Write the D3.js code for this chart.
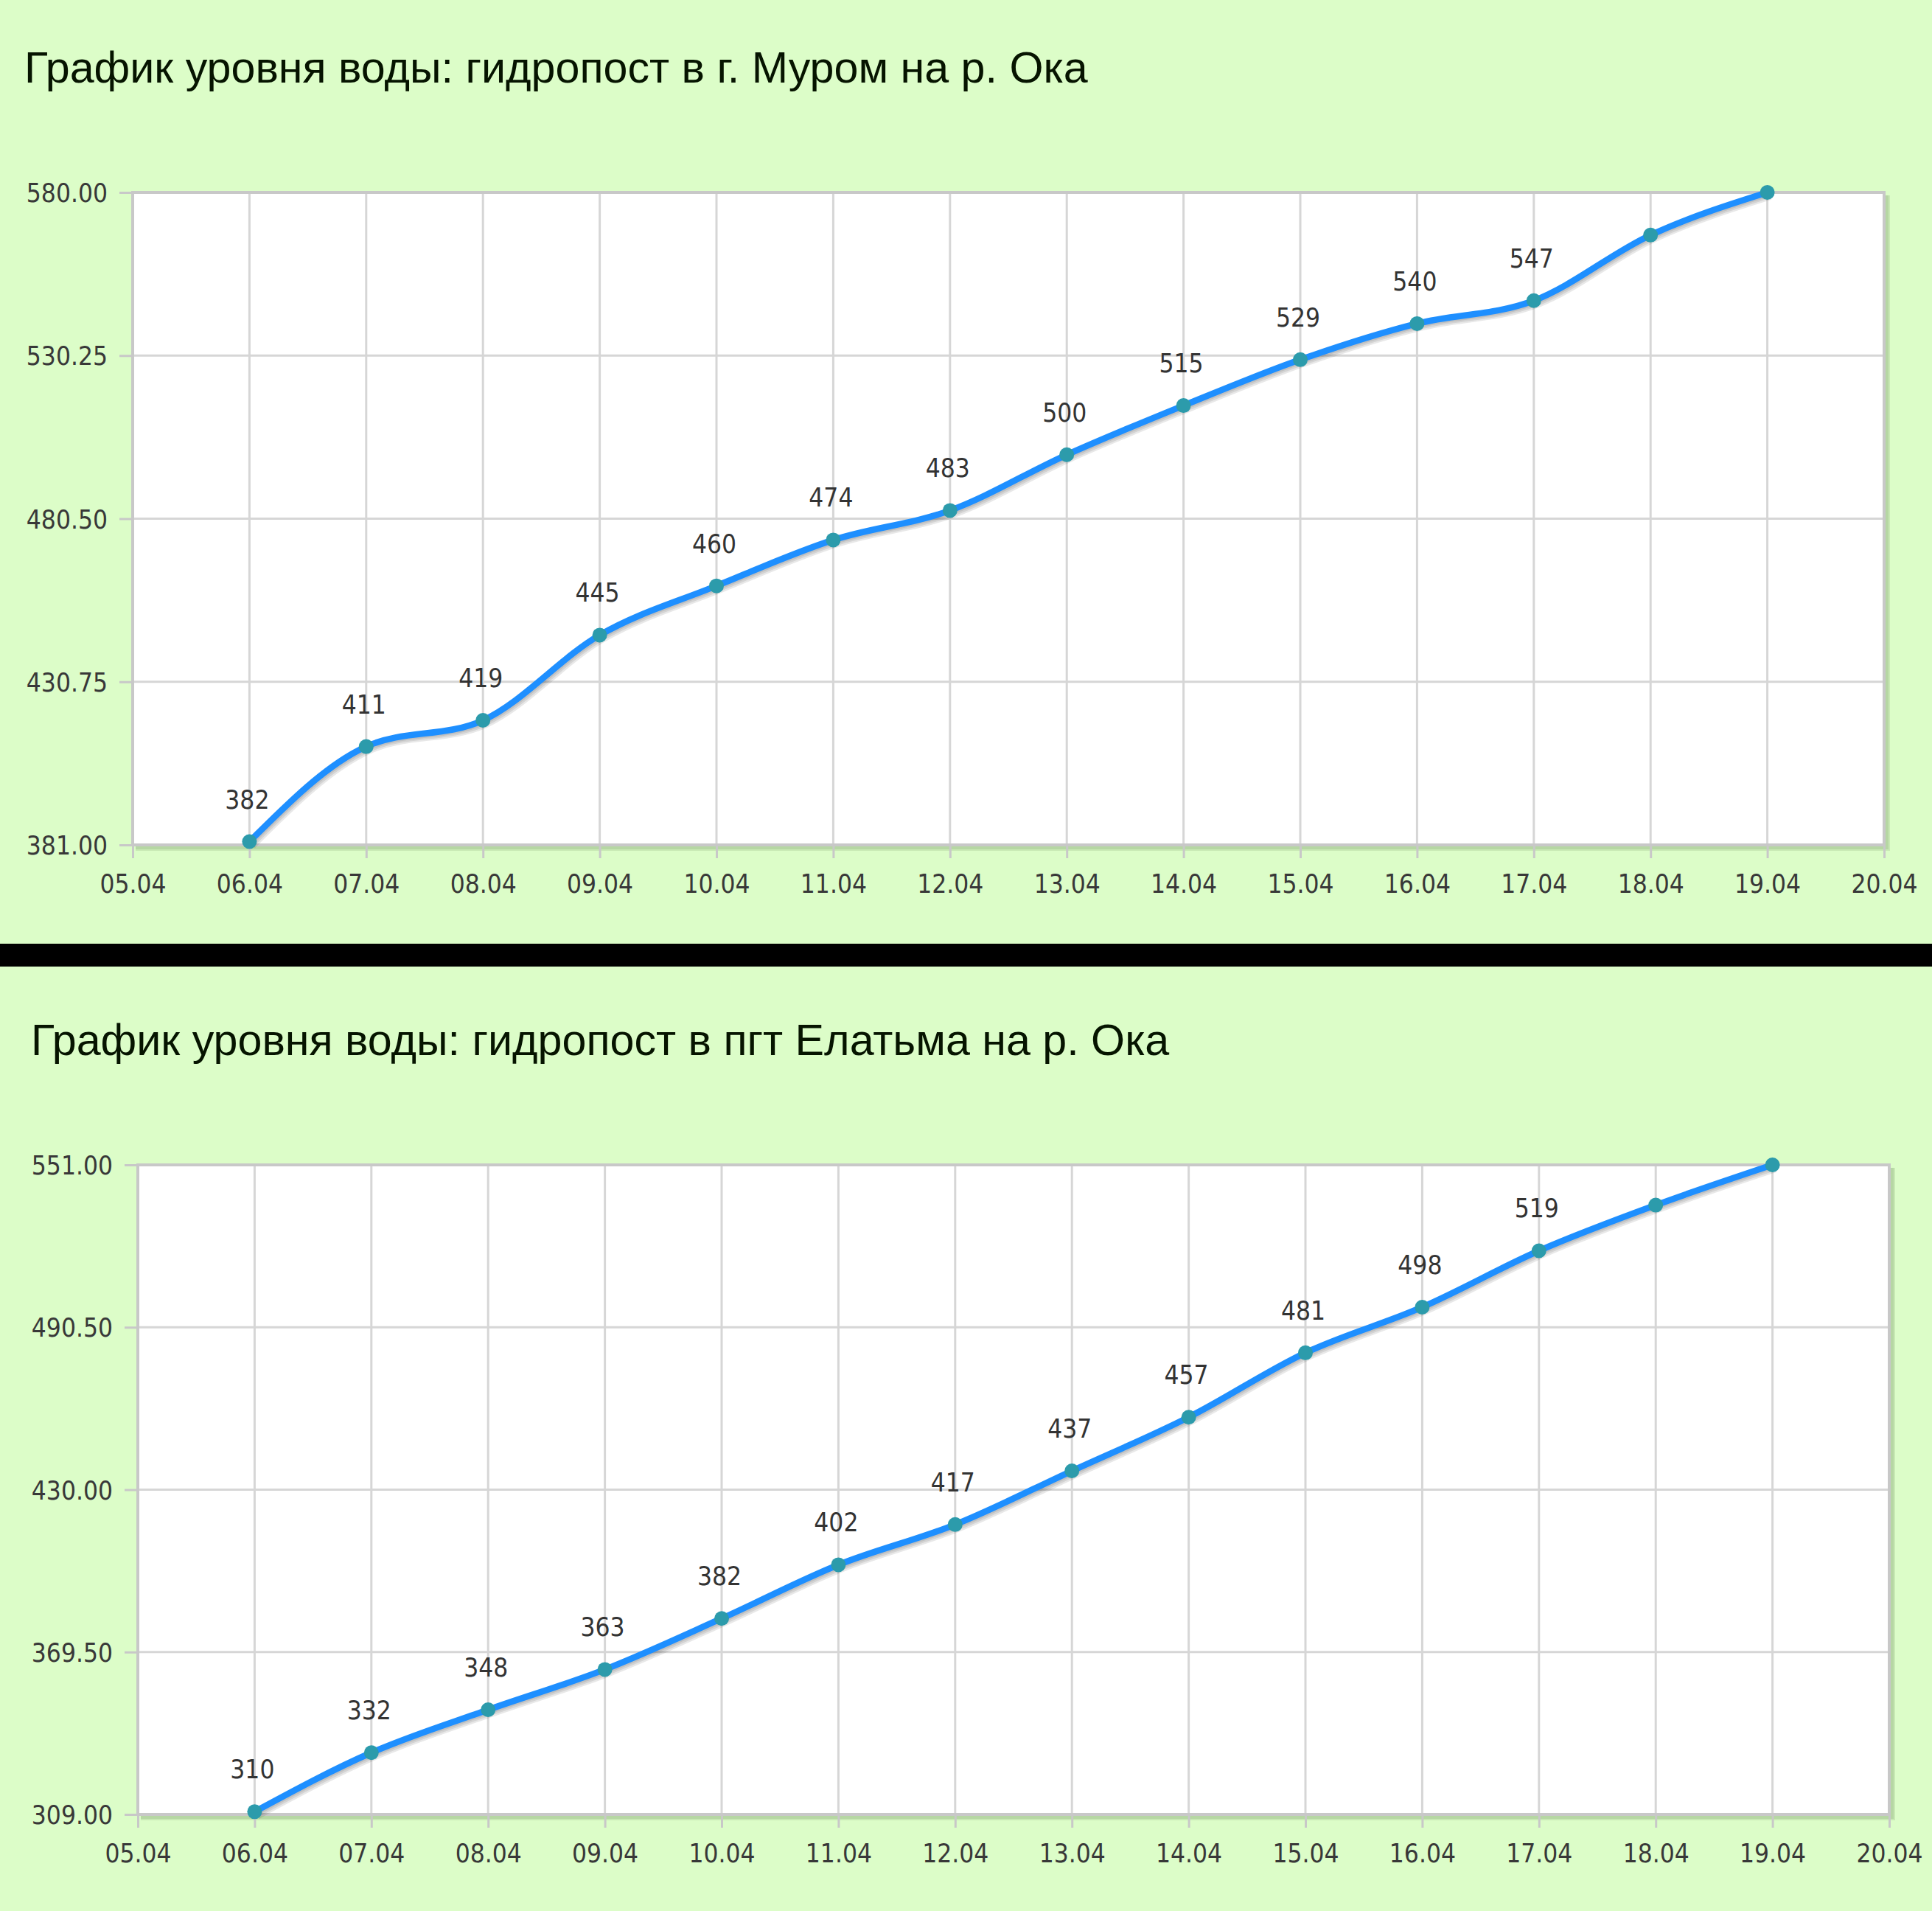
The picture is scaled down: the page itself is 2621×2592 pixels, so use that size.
<!DOCTYPE html>
<html>
<head>
<meta charset="utf-8">
<script src="https://cdn.jsdelivr.net/npm/d3@7"></script>
<style>
  body { margin: 0; background: #dcfdc8; }
  svg { display: block; }
</style>
</head>
<body>
<div id="chart"></div>
<script>
// x categories (axis ticks)
const xTicks = ["05.04", "06.04", "07.04", "08.04", "09.04", "10.04", "11.04", "12.04",
                "13.04", "14.04", "15.04", "16.04", "17.04", "18.04", "19.04", "20.04"];
const dates = ["06.04", "07.04", "08.04", "09.04", "10.04", "11.04", "12.04",
               "13.04", "14.04", "15.04", "16.04", "17.04", "18.04", "19.04"];

// гидропост в г. Муром
const title1 = "График уровня воды: гидропост в г. Муром на р. Ока";
const values1 = [382, 411, 419, 445, 460, 474, 483, 500, 515, 529, 540, 547, 567, 580];
const yTicks1 = [381, 430.75, 480.50, 530.25, 580];

// гидропост в пгт Елатьма
const title2 = "График уровня воды: гидропост в пгт Елатьма на р. Ока";
const values2 = [310, 332, 348, 363, 382, 402, 417, 437, 457, 481, 498, 519, 536, 551];
const yTicks2 = [309, 369.50, 430, 490.50, 551];

// how many points get a value label (the last two have none)
const labelCount = 12;

const W = 2621, H = 2592;

const svg = d3.select("#chart").append("svg")
    .attr("width", W)
    .attr("height", H);

// black separator
svg.append("rect")
    .attr("x", 0).attr("y", 1280)
    .attr("width", W).attr("height", 31)
    .attr("fill", "#000");

function drawChart(cfg)
{
    let g = svg.append("g");

    g.append("text")
        .attr("x", cfg.titleX)
        .attr("y", cfg.titleY)
        .attr("font-family", "Liberation Sans, Arial, sans-serif")
        .attr("font-size", 59.2)
        .attr("fill", "#061400")
        .text(cfg.title);

    let x = d3.scalePoint().domain(xTicks).range([cfg.left, cfg.right]);
    let y = d3.scaleLinear()
        .domain([cfg.yTicks[0], cfg.yTicks[cfg.yTicks.length - 1]])
        .range([cfg.bottom, cfg.top]);

    // grid shadow
    for (let i = 1; i <= 3; i++) {
        g.append("path")
            .attr("d", `M${cfg.right + 2 * i},${cfg.top + 4} V${cfg.bottom + 2 * i} H${cfg.left + 4}`)
            .attr("fill", "none")
            .attr("stroke", "rgba(60,90,40,0.12)")
            .attr("stroke-width", 4);
    }

    g.append("rect")
        .attr("x", cfg.left).attr("y", cfg.top)
        .attr("width", cfg.right - cfg.left)
        .attr("height", cfg.bottom - cfg.top)
        .attr("fill", "#fff");

    // grid lines
    g.append("g").selectAll("line")
        .data(xTicks.slice(1, -1))
        .join("line")
        .attr("x1", d => x(d)).attr("x2", d => x(d))
        .attr("y1", cfg.top).attr("y2", cfg.bottom)
        .attr("stroke", "#d6d6d6")
        .attr("stroke-width", 3);

    g.append("g").selectAll("line")
        .data(cfg.yTicks.slice(1, -1))
        .join("line")
        .attr("x1", cfg.left).attr("x2", cfg.right)
        .attr("y1", d => y(d)).attr("y2", d => y(d))
        .attr("stroke", "#d6d6d6")
        .attr("stroke-width", 3);

    g.append("rect")
        .attr("x", cfg.left).attr("y", cfg.top)
        .attr("width", cfg.right - cfg.left)
        .attr("height", cfg.bottom - cfg.top)
        .attr("fill", "none")
        .attr("stroke", "#c8c8c8")
        .attr("stroke-width", 4);

    // axes
    let xAxis = d3.axisBottom(x).tickSize(16).tickPadding(22);
    let gx = g.append("g")
        .attr("transform", `translate(0,${cfg.bottom + 2})`)
        .call(xAxis);

    let yAxis = d3.axisLeft(y)
        .tickValues(cfg.yTicks)
        .tickFormat(d3.format(".2f"))
        .tickSize(16).tickPadding(16);
    let gy = g.append("g")
        .attr("transform", `translate(${cfg.left - 2},0)`)
        .call(yAxis);

    [gx, gy].forEach(a => {
        a.select(".domain").remove();
        a.selectAll(".tick line").attr("stroke", "#c8c8c8").attr("stroke-width", 3);
        a.selectAll(".tick text")
            .attr("font-family", "DejaVu Sans Condensed, DejaVu Sans, sans-serif")
            .attr("font-size", 35)
            .attr("fill", "#383838");
    });
    gy.selectAll(".tick text").attr("dy", "0.36em");

    let pts = dates.map((d, i) => ({date: d, value: cfg.values[i], idx: i}));

    let line = d3.line()
        .x(d => x(d.date))
        .y(d => y(d.value))
        .curve(d3.curveMonotoneX);

    // line shadow
    for (let i = 1; i <= 3; i++) {
        g.append("path")
            .datum(pts)
            .attr("d", line)
            .attr("transform", `translate(${1.5 * i},${2 * i})`)
            .attr("fill", "none")
            .attr("stroke", "rgba(0,0,0,0.09)")
            .attr("stroke-width", 8);
    }

    g.append("path")
        .datum(pts)
        .attr("d", line)
        .attr("fill", "none")
        .attr("stroke", "#1e8fff")
        .attr("stroke-width", 8.5);

    g.append("g").selectAll("circle")
        .data(pts)
        .join("circle")
        .attr("cx", d => x(d.date))
        .attr("cy", d => y(d.value))
        .attr("r", 10)
        .attr("fill", "#2c9bab");

    g.append("g").selectAll("text")
        .data(pts.filter(d => d.idx < labelCount))
        .join("text")
        .attr("x", d => x(d.date) - 3)
        .attr("y", d => y(d.value) - 45)
        .attr("text-anchor", "middle")
        .attr("font-family", "DejaVu Sans Condensed, DejaVu Sans, sans-serif")
        .attr("font-size", 35)
        .attr("fill", "#333")
        .text(d => d.value);
}

drawChart({
    title: title1, values: values1, yTicks: yTicks1,
    titleX: 33, titleY: 112,
    left: 180, right: 2556, top: 261, bottom: 1146
});

drawChart({
    title: title2, values: values2, yTicks: yTicks2,
    titleX: 42, titleY: 1431,
    left: 187, right: 2563, top: 1580, bottom: 2461
});
</script>
</body>
</html>
